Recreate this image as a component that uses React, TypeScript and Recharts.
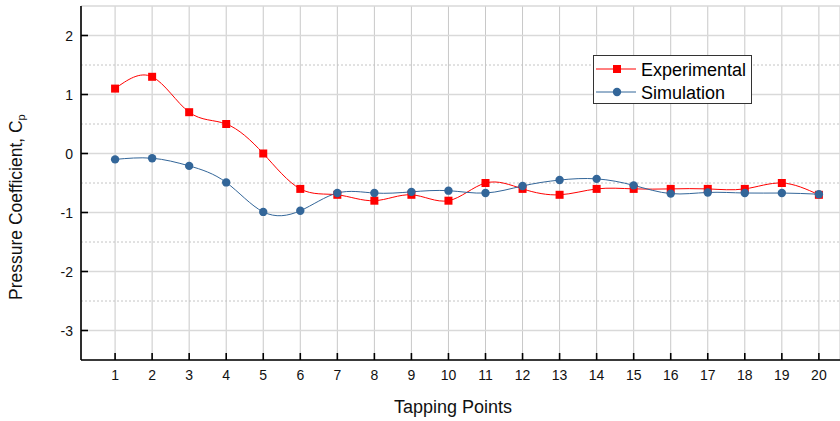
import React from "react";
import {
  LineChart,
  Line,
  XAxis,
  YAxis,
  CartesianGrid,
  ReferenceLine,
  Legend,
} from "recharts";

const tappingPoints = [1, 2, 3, 4, 5, 6, 7, 8, 9, 10, 11, 12, 13, 14, 15, 16, 17, 18, 19, 20];
const experimental = [1.1, 1.3, 0.7, 0.5, 0.0, -0.6, -0.7, -0.8, -0.7, -0.8, -0.5, -0.6, -0.7, -0.6, -0.6, -0.6, -0.6, -0.6, -0.5, -0.7];
const simulation = [-0.1, -0.08, -0.21, -0.49, -0.99, -0.97, -0.67, -0.67, -0.65, -0.63, -0.67, -0.55, -0.45, -0.43, -0.54, -0.68, -0.66, -0.67, -0.67, -0.69];
const yTicks = [-3, -2, -1, 0, 1, 2];
const yMinorTicks = [-2.5, -1.5, -0.5, 0.5, 1.5];

const data = tappingPoints.map((x, i) => ({
  x,
  experimental: experimental[i],
  simulation: simulation[i],
}));

const FONT = "'Liberation Sans', Arial, sans-serif";
const RED = "#ff0000";
const BLUE = "#336699";

const BottomTick = (props: any) => {
  const { x, y, payload } = props;
  return (
    <g>
      <line x1={x} y1={y} x2={x} y2={y - 7} stroke="#000" strokeWidth={1.6} />
      <text x={x} y={y + 20} textAnchor="middle" fontSize={14} fill="#111" fontFamily={FONT}>
        {payload.value}
      </text>
    </g>
  );
};

const TopTick = (props: any) => {
  const { x, y } = props;
  return <line x1={x} y1={y} x2={x} y2={y + 7} stroke="#000" strokeWidth={1.6} />;
};

const LeftTick = (props: any) => {
  const { x, y, payload } = props;
  return (
    <g>
      <line x1={x} y1={y} x2={x + 7} y2={y} stroke="#000" strokeWidth={1.6} />
      <text x={x - 8} y={y + 5} textAnchor="end" fontSize={14} fill="#111" fontFamily={FONT}>
        {payload.value}
      </text>
    </g>
  );
};

const SquareDot = (props: any) => {
  const { cx, cy, index } = props;
  if (cx == null || cy == null) return <g key={index} />;
  return <rect key={index} x={cx - 4} y={cy - 4} width={8} height={8} fill={RED} />;
};

const CircleDot = (props: any) => {
  const { cx, cy, index } = props;
  if (cx == null || cy == null) return <g key={index} />;
  return <circle key={index} cx={cx} cy={cy} r={4.2} fill={BLUE} />;
};

const LegendBox = () => (
  <svg width={160} height={50} style={{ display: "block" }}>
    <rect x={0.5} y={0.5} width={158} height={48} fill="#fff" stroke="#333" strokeWidth={1} />
    <line x1={3} y1={14} x2={43} y2={14} stroke={RED} strokeWidth={1} />
    <rect x={20} y={10} width={8} height={8} fill={RED} />
    <text x={48} y={20.5} fontSize={18} fontFamily={FONT} fill="#000">
      Experimental
    </text>
    <line x1={3} y1={37} x2={43} y2={37} stroke={BLUE} strokeWidth={1} />
    <circle cx={24} cy={37} r={4.2} fill={BLUE} />
    <text x={48} y={43.5} fontSize={18} fontFamily={FONT} fill="#000">
      Simulation
    </text>
  </svg>
);

export default function App() {
  return (
    <div style={{ position: "absolute", left: 0, top: 0, width: 840, height: 421, background: "#fff" }}>
      <LineChart
        width={840}
        height={421}
        data={data}
        margin={{ top: 6, right: 0, bottom: 0, left: 0 }}
      >
        <CartesianGrid
          horizontal={false}
          vertical={true}
          stroke="#c8c8c8"
          strokeWidth={1}
          xAxisId={0}
        />
        <CartesianGrid horizontal={true} vertical={false} stroke="#d9d9d9" strokeWidth={1.5} />
        {yMinorTicks.map((v) => (
          <ReferenceLine
            key={v}
            y={v}
            stroke="#c4c4c4"
            strokeWidth={1}
            strokeDasharray="2 2"
            ifOverflow="hidden"
          />
        ))}
        <XAxis
          dataKey="x"
          type="number"
          domain={[0.08, 20.57]}
          ticks={tappingPoints}
          allowDataOverflow
          interval={0}
          height={61}
          tickLine={false}
          tickSize={0}
          tickMargin={0}
          tick={<BottomTick />}
          axisLine={{ stroke: "#000", strokeWidth: 1.6 }}
          label={{
            content: () => (
              <text x={453} y={413} textAnchor="middle" fontSize={18} fontFamily={FONT} fill="#111">
                Tapping Points
              </text>
            ),
          }}
        />
        <XAxis
          xAxisId="top"
          orientation="top"
          dataKey="x"
          type="number"
          domain={[0.08, 20.57]}
          ticks={tappingPoints}
          allowDataOverflow
          interval={0}
          height={0}
          tickLine={false}
          tickSize={0}
          tickMargin={0}
          tick={<TopTick />}
          axisLine={{ stroke: "#333", strokeWidth: 1.6 }}
        />
        <YAxis
          type="number"
          domain={[-3.5, 2.5]}
          ticks={yTicks}
          allowDataOverflow
          interval={0}
          width={81}
          tickLine={false}
          tickSize={0}
          tickMargin={0}
          tick={<LeftTick />}
          axisLine={{ stroke: "#000", strokeWidth: 1.6 }}
          label={{
            content: () => (
              <text
                x={22}
                y={300}
                transform="rotate(-90, 22, 300)"
                textAnchor="start"
                fontSize={17.5}
                fontFamily={FONT}
                fill="#111"
              >
                Pressure Coefficient, C
                <tspan fontSize={11} dy={3}>p</tspan>
              </text>
            ),
          }}
        />
        <Legend
          layout="horizontal"
          verticalAlign="middle"
          align="center"
          content={() => <LegendBox />}
          wrapperStyle={{ position: "absolute", left: 593, top: 55, width: 160, height: 50, margin: 0, padding: 0 }}
        />
        <Line
          type="natural"
          dataKey="experimental"
          stroke={RED}
          strokeWidth={1}
          dot={<SquareDot />}
          activeDot={false}
          isAnimationActive={false}
        />
        <Line
          type="natural"
          dataKey="simulation"
          stroke={BLUE}
          strokeWidth={1}
          dot={<CircleDot />}
          activeDot={false}
          isAnimationActive={false}
        />
      </LineChart>
    </div>
  );
}
